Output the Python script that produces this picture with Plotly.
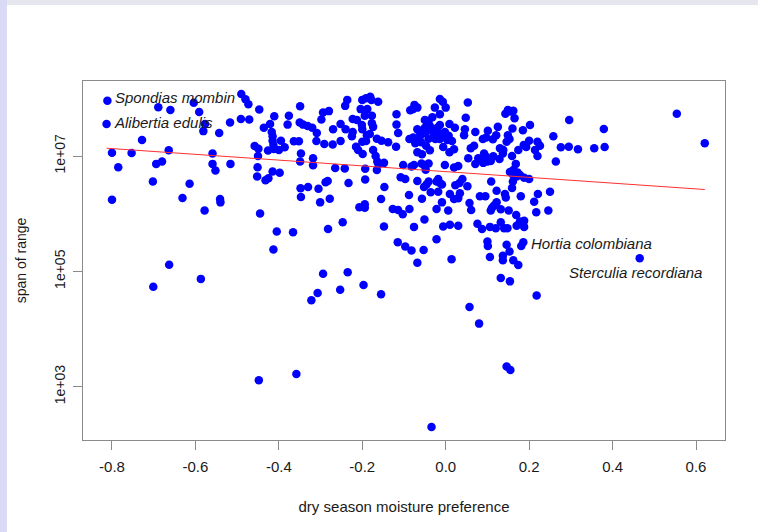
import math
import plotly.graph_objects as go

# dry season moisture preference of each species
moisture = [
    -0.811, -0.813, -0.490, -0.480, -0.473, -0.689, -0.660, -0.604, -0.591, -0.577,
    -0.581, -0.517, -0.491, -0.471, -0.447, -0.543, -0.728, -0.800, -0.753, -0.664,
    -0.785, -0.694, -0.680, -0.702, -0.800, -0.631, -0.614, -0.578, -0.541, -0.540,
    -0.559, -0.559, -0.552, -0.516, -0.445, -0.405, -0.366, -0.413, -0.282, -0.458,
    -0.449, -0.450, -0.451, -0.452, -0.432, -0.425, -0.415, -0.398, -0.411, -0.376,
    -0.379, -0.421, -0.436, -0.417, -0.415, -0.415, -0.413, -0.395, -0.426, -0.412,
    -0.400, -0.386, -0.364, -0.352, -0.349, -0.350, -0.342, -0.331, -0.320, -0.309,
    -0.310, -0.291, -0.271, -0.347, -0.349, -0.318, -0.318, -0.265, -0.283, -0.288,
    -0.348, -0.330, -0.305, -0.347, -0.278, -0.301, -0.294, -0.280, -0.298, -0.270,
    -0.252, -0.663, -0.701, -0.587, -0.294, -0.235, -0.307, -0.322, -0.253, -0.197,
    -0.155, -0.448, -0.358, -0.236, -0.241, -0.200, -0.191, -0.181, -0.178, -0.162,
    -0.204, -0.188, -0.194, -0.177, -0.223, -0.213, -0.252, -0.240, -0.223, -0.201,
    -0.200, -0.177, -0.174, -0.189, -0.182, -0.225, -0.200, -0.191, -0.165, -0.154,
    -0.138, -0.215, -0.210, -0.199, -0.174, -0.168, -0.164, -0.118, -0.118, -0.114,
    -0.119, -0.161, -0.148, -0.165, -0.193, -0.193, -0.242, -0.233, -0.147, -0.155,
    -0.207, -0.194, -0.194, -0.247, -0.148, -0.075, -0.068, -0.085, -0.079, -0.014,
    -0.007, 0.000, -0.026, -0.032, -0.041, -0.050, -0.014, 0.009, 0.022, -0.068,
    -0.062, -0.050, -0.038, -0.033, -0.020, -0.014, -0.087, -0.078, -0.068, -0.060,
    -0.049, -0.041, -0.028, -0.017, -0.010, -0.002, 0.007, 0.015, 0.004, -0.014,
    -0.025, -0.073, -0.059, -0.047, -0.038, -0.068, -0.057, -0.006, 0.009, -0.102,
    -0.082, -0.076, -0.058, -0.052, -0.048, -0.041, -0.108, -0.097, -0.068, -0.002,
    0.020, 0.030, -0.052, -0.046, -0.041, -0.022, -0.018, -0.014, -0.009, -0.036,
    -0.018, -0.088, -0.057, 0.010, 0.020, 0.030, 0.023, -0.127, -0.114, -0.103,
    -0.087, -0.009, -0.022, 0.006, -0.051, -0.076, -0.006, 0.010, 0.030, -0.022,
    -0.115, -0.097, -0.082, -0.053, -0.068, 0.014, 0.057, 0.080, 0.146, 0.155,
    -0.034, 0.053, 0.048, 0.046, 0.044, 0.071, 0.101, 0.097, 0.089, 0.113,
    0.125, 0.121, 0.149, 0.156, 0.162, 0.143, 0.165, 0.160, 0.149, 0.153,
    0.146, 0.185, 0.202, 0.200, 0.193, 0.187, 0.174, 0.220, 0.226, 0.220,
    0.214, 0.258, 0.276, 0.295, 0.296, 0.317, 0.264, 0.020, 0.068, 0.060,
    0.054, 0.071, 0.082, 0.092, 0.097, 0.100, 0.108, 0.090, 0.078, 0.114,
    0.129, 0.137, 0.138, 0.130, 0.159, 0.168, 0.154, 0.162, 0.172, 0.178,
    0.188, 0.200, 0.170, 0.161, 0.040, 0.033, 0.052, 0.109, 0.161, 0.159,
    0.250, 0.221, 0.180, 0.122, 0.142, 0.144, 0.082, 0.095, 0.034, 0.122,
    0.116, 0.108, 0.111, 0.132, 0.151, 0.057, 0.061, 0.212, 0.217, 0.246,
    0.169, 0.178, 0.076, 0.087, 0.106, 0.120, 0.132, 0.140, 0.148, 0.170,
    0.188, 0.188, 0.100, 0.101, 0.146, 0.181, 0.186, 0.153, 0.137, 0.137,
    0.106, 0.162, 0.174, 0.132, 0.154, 0.218, 0.465, 0.379, 0.381, 0.356,
    0.554, 0.621,
]

# geographic span of each species' range
span = [
    9.1e7, 3.6e7, 1.19e8, 9.6e7, 7.9e7, 7.0e7, 6.3e7, 8.4e7, 5.8e7, 3.6e7,
    2.7e7, 3.8e7, 4.4e7, 4.3e7, 6.4e7, 2.5e7, 1.9e7, 1.14e7, 1.13e7, 1.26e7,
    6.4e6, 7.3e6, 8.0e6, 3.6e6, 1.75e6, 1.87e6, 3.3e6, 1.14e6, 1.8e6, 1.57e6,
    1.11e7, 7.3e6, 5.6e6, 7.3e6, 1.01e6, 4.9e5, 4.75e5, 2.4e5, 5.4e5, 1.49e7,
    1.34e7, 1.0e7, 6.4e6, 4.4e6, 3.8e6, 4.1e6, 5.4e6, 5.1e6, 4.9e7, 5.0e7,
    3.5e7, 3.6e7, 3.1e7, 2.6e7, 2.2e7, 1.84e7, 1.55e7, 1.84e7, 1.24e7, 1.32e7,
    1.27e7, 1.42e7, 1.8e7, 1.8e7, 7.3e7, 3.8e7, 3.5e7, 3.3e7, 3.1e7, 2.5e7,
    1.82e7, 1.61e7, 1.58e7, 1.11e7, 8.0e6, 9.1e6, 6.9e6, 6.2e6, 3.7e6, 3.5e6,
    2.75e6, 2.9e6, 2.7e6, 1.95e6, 1.82e6, 1.57e6, 5.7e7, 6.0e7, 4.3e7, 2.9e7,
    1.82e7, 1.3e5, 5.4e4, 7.4e4, 9.1e4, 9.6e4, 4.2e4, 3.15e4, 4.8e4, 5.8e4,
    4.0e4, 1.29e3, 1.66e3, 9.4e7, 7.4e7, 9.4e7, 1.0e8, 1.07e8, 9.4e7, 8.7e7,
    6.5e7, 6.5e7, 5.0e7, 5.0e7, 4.4e7, 4.2e7, 3.6e7, 2.9e7, 2.6e7, 3.45e7,
    2.9e7, 3.7e7, 3.2e7, 2.3e7, 2.4e7, 2.2e7, 1.77e7, 1.82e7, 2.0e7, 1.84e7,
    1.73e7, 1.45e7, 1.27e7, 1.08e7, 1.27e7, 1.0e7, 8.0e6, 5.3e7, 3.5e7, 2.5e7,
    1.45e7, 7.2e6, 7.6e6, 5.7e6, 6.0e6, 3.9e6, 6.1e6, 3.4e6, 2.9e6, 1.8e6,
    1.29e6, 1.45e6, 1.27e6, 7.1e5, 6.0e5, 7.7e7, 6.9e7, 6.2e7, 6.5e7, 9.7e7,
    8.7e7, 6.9e7, 6.9e7, 4.7e7, 4.1e7, 4.2e7, 5.3e7, 3.6e7, 3.1e7, 2.9e7,
    2.6e7, 3.1e7, 3.35e7, 2.75e7, 3.1e7, 3.45e7, 1.97e7, 2.1e7, 2.0e7, 2.3e7,
    2.5e7, 2.0e7, 2.3e7, 2.5e7, 2.3e7, 2.6e7, 2.25e7, 1.82e7, 1.9e7, 1.97e7,
    1.97e7, 1.66e7, 1.73e7, 1.51e7, 1.26e7, 1.16e7, 1.07e7, 1.43e7, 1.16e7, 7.0e6,
    6.6e6, 7.0e6, 7.4e6, 7.0e6, 5.8e6, 7.4e6, 4.3e6, 4.0e6, 3.7e6, 7.0e6,
    6.3e6, 6.7e6, 2.9e6, 3.2e6, 3.6e6, 3.6e6, 4.0e6, 3.4e6, 3.2e6, 2.35e6,
    2.4e6, 2.1e6, 1.82e6, 2.2e6, 1.8e6, 1.85e6, 3.1e6, 1.2e6, 1.16e6, 9.8e5,
    1.2e6, 1.57e6, 1.2e6, 1.14e6, 7.9e5, 5.9e5, 6.0e5, 6.4e5, 6.2e5, 3.6e5,
    3.2e5, 2.7e5, 2.3e5, 2.35e5, 1.41e5, 1.62e5, 2.4e4, 1.24e4, 2.24e3, 1.95e3,
    2.0e2, 8.5e7, 4.6e7, 2.9e7, 2.3e7, 2.6e7, 2.75e7, 2.1e7, 1.97e7, 1.95e7,
    3.2e7, 2.3e7, 6.3e7, 5.9e7, 6.1e7, 5.4e7, 4.5e7, 3.0e7, 2.3e7, 1.97e7,
    1.77e7, 2.8e7, 3.45e7, 1.84e7, 1.43e7, 1.55e7, 1.27e7, 1.77e7, 1.51e7, 1.0e7,
    1.27e7, 2.2e7, 1.42e7, 1.45e7, 4.2e7, 1.31e7, 8.0e6, 1.31e7, 1.51e7, 1.36e7,
    9.1e6, 7.3e6, 8.5e6, 1.11e7, 9.7e6, 8.0e6, 8.2e6, 7.6e6, 9.1e6, 9.9e6,
    8.9e6, 1.11e7, 1.27e7, 1.36e7, 1.0e7, 7.3e6, 5.3e6, 5.7e6, 5.2e6, 4.7e6,
    4.2e6, 4.0e6, 4.4e6, 4.8e6, 4.0e6, 3.4e6, 3.0e6, 3.6e6, 3.6e6, 2.8e6,
    2.4e6, 2.2e6, 2.0e6, 2.5e6, 2.2e6, 1.9e6, 2.0e6, 2.0e6, 2.25e6, 1.57e6,
    1.38e6, 1.14e6, 1.27e6, 1.19e6, 1.13e6, 1.53e6, 1.16e6, 1.61e6, 1.06e6, 1.14e6,
    9.5e5, 7.3e5, 6.7e5, 5.4e5, 5.9e5, 5.6e5, 7.1e5, 5.6e5, 5.6e5, 6.2e5,
    5.9e5, 7.5e5, 3.3e5, 2.75e5, 2.9e5, 2.75e5, 3.2e5, 2.2e5, 1.87e5, 1.55e5,
    1.77e5, 1.55e5, 1.29e5, 7.7e4, 6.7e4, 3.8e4, 1.68e5, 2.95e7, 1.43e7, 1.36e7,
    5.4e7, 1.66e7,
]

# labelled species: name, moisture, span
labelled_names = ["Spondias mombin", "Alibertia edulis", "Hortia colombiana", "Sterculia recordiana"]
labelled_moisture = [-0.811, -0.813, 0.186, 0.465]
labelled_span = [9.1e7, 3.6e7, 3.2e5, 1.68e5]

# fitted trend of log10(span) against moisture
fit_intercept = 6.729
fit_slope = -0.499

x_ticks = [-0.8, -0.6, -0.4, -0.2, 0.0, 0.2, 0.4, 0.6]
x_tick_text = ["-0.8", "-0.6", "-0.4", "-0.2", "0.0", "0.2", "0.4", "0.6"]
y_ticks = [1e3, 1e5, 1e7]
y_tick_text = ["1e+03", "1e+05", "1e+07"]

FONT = "Liberation Sans, Arial, Helvetica, sans-serif"
AXIS_GREY = "#8a8a8a"
TEXT = "#1a1a1a"

fig = go.Figure()

fig.add_trace(go.Scatter(
    x=moisture, y=span, mode="markers",
    marker=dict(color="#0000ff", size=8.5, line=dict(width=0)),
    hoverinfo="skip", showlegend=False,
))

x_lo, x_hi = min(moisture), max(moisture)
fig.add_trace(go.Scatter(
    x=[x_lo, x_hi],
    y=[10 ** (fit_intercept + fit_slope * x_lo), 10 ** (fit_intercept + fit_slope * x_hi)],
    mode="lines", line=dict(color="#ff3030", width=1),
    hoverinfo="skip", showlegend=False,
))

# species labels: right of the point, except the last one which sits below it
label_style = [
    dict(xanchor="left", xshift=6, yshift=3),
    dict(xanchor="left", xshift=5, yshift=1),
    dict(xanchor="left", xshift=6, yshift=-1),
    dict(xanchor="center", xshift=-4, yshift=-14),
]
for name, mx, sy, st in zip(labelled_names, labelled_moisture, labelled_span, label_style):
    # annotations on a log axis are positioned in log10 units
    fig.add_annotation(
        x=mx, y=math.log10(sy), xref="x", yref="y", yanchor="middle",
        text="<i>" + name + "</i>", showarrow=False,
        xanchor=st["xanchor"], xshift=st["xshift"], yshift=st["yshift"],
        font=dict(family=FONT, size=15, color=TEXT),
    )

# page edges framing the figure
fig.add_shape(type="rect", xref="paper", yref="paper",
              x0=-0.1293, x1=1.0514, y0=1.2117, y1=1.2257,
              fillcolor="#e6e6ef", line=dict(width=0), layer="below")
fig.add_shape(type="rect", xref="paper", yref="paper",
              x0=-0.1293, x1=-0.1184, y0=-0.2563, y1=1.2257,
              fillcolor="#dadaf6", line=dict(width=0), layer="below")

fig.update_layout(
    width=758, height=532,
    margin=dict(l=83, r=33, t=81, b=92),
    paper_bgcolor="white", plot_bgcolor="white",
    font=dict(family=FONT, size=15, color=TEXT),
    showlegend=False,
)

fig.update_xaxes(
    range=[-0.8695, 0.6695],
    tickmode="array", tickvals=x_ticks, ticktext=x_tick_text,
    ticks="outside", ticklen=9, tickcolor=AXIS_GREY, tickwidth=1,
    showline=True, linecolor=AXIS_GREY, linewidth=1, mirror=True,
    showgrid=False, zeroline=False,
    tickfont=dict(family=FONT, size=15, color=TEXT),
    ticklabelstandoff=4,
    title=dict(text="dry season moisture preference", standoff=27,
               font=dict(family=FONT, size=15, color=TEXT)),
)

fig.update_yaxes(
    type="log", range=[2.0754, 8.3005],
    tickmode="array", tickvals=y_ticks, ticktext=y_tick_text, tickangle=-90,
    ticks="outside", ticklen=9, tickcolor=AXIS_GREY, tickwidth=1,
    showline=True, linecolor=AXIS_GREY, linewidth=1, mirror=True,
    showgrid=False, zeroline=False,
    tickfont=dict(family=FONT, size=14, color=TEXT),
    ticklabelstandoff=2,
    title=dict(text="span of range", standoff=22,
               font=dict(family=FONT, size=14, color=TEXT)),
)

fig.write_html("out.html")
